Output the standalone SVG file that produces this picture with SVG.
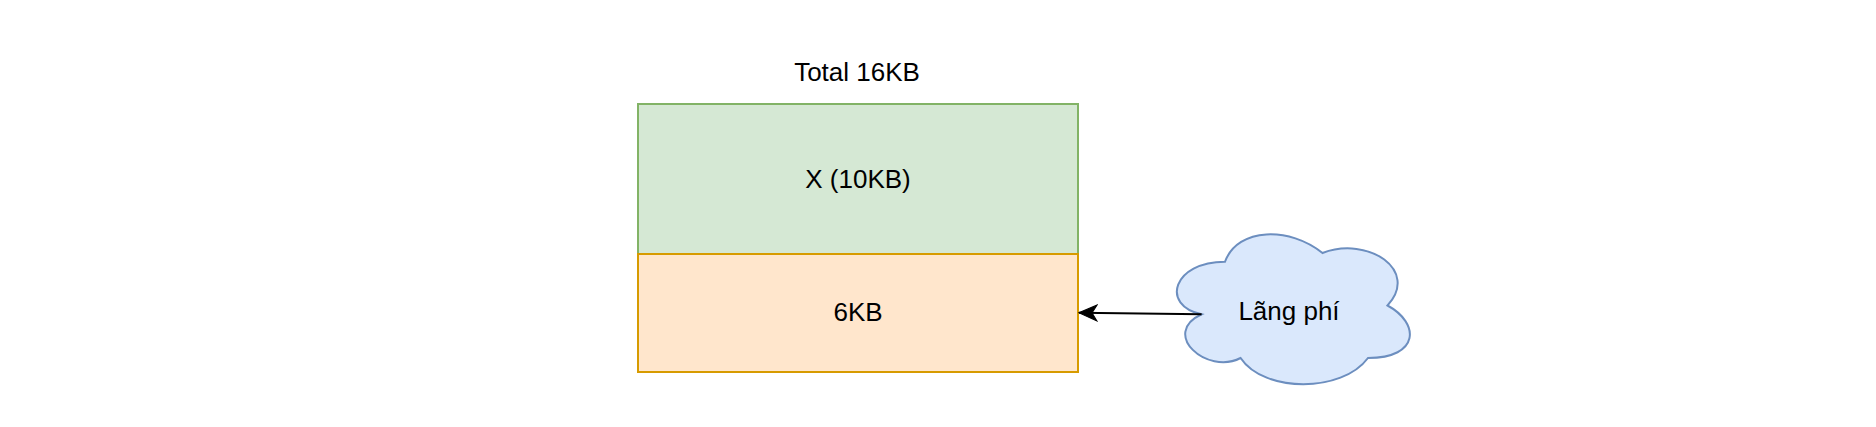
<svg xmlns="http://www.w3.org/2000/svg" width="1876" height="427" viewBox="0 0 1876 427">
<style>
text{font-family:"Liberation Sans",Arial,sans-serif;font-size:26px;fill:#000;text-anchor:middle;dominant-baseline:central}
.g{fill:#d5e8d4;stroke:#82b366;stroke-width:2}
.o{fill:#ffe6cc;stroke:#d79b00;stroke-width:2}
.c{fill:#dae8fc;stroke:#6c8ebf;stroke-width:2}
.e{fill:none;stroke:#000;stroke-width:2}
</style>
<defs>
<marker id="arr" markerWidth="20" markerHeight="20" refX="19" refY="9" orient="auto" markerUnits="userSpaceOnUse" viewBox="0 0 20 18">
<path d="M19 9 L1 1 L6 9 L1 17 Z" fill="#000" stroke="#000" stroke-width="1"/>
</marker>
</defs>
<g id="title"><text x="857" y="72">Total 16KB</text></g>
<g id="x10kb"><rect class="g" x="638" y="104" width="440" height="150"/><text x="858" y="179">X (10KB)</text></g>
<g id="kb6"><rect class="o" x="638" y="254" width="440" height="118"/><text x="858" y="312">6KB</text></g>
<g id="langphi">
<path class="c" d="M1225 261.75 C1173 261.75 1160 305.5 1201.6 314.25 C1160 333.5 1206.8 375.5 1240.6 358 C1264 393 1342 393 1368 358 C1420 358 1420 323 1387.5 305.5 C1420 270.5 1368 235.5 1322.5 253 C1290 226.75 1238 226.75 1225 261.75 Z"/>
<text x="1289" y="311">Lãng phí</text>
</g>
<g id="connectors">
<path class="e" d="M1201.6 314.2 L1079 312.7" marker-end="url(#arr)"/>
</g>
</svg>
